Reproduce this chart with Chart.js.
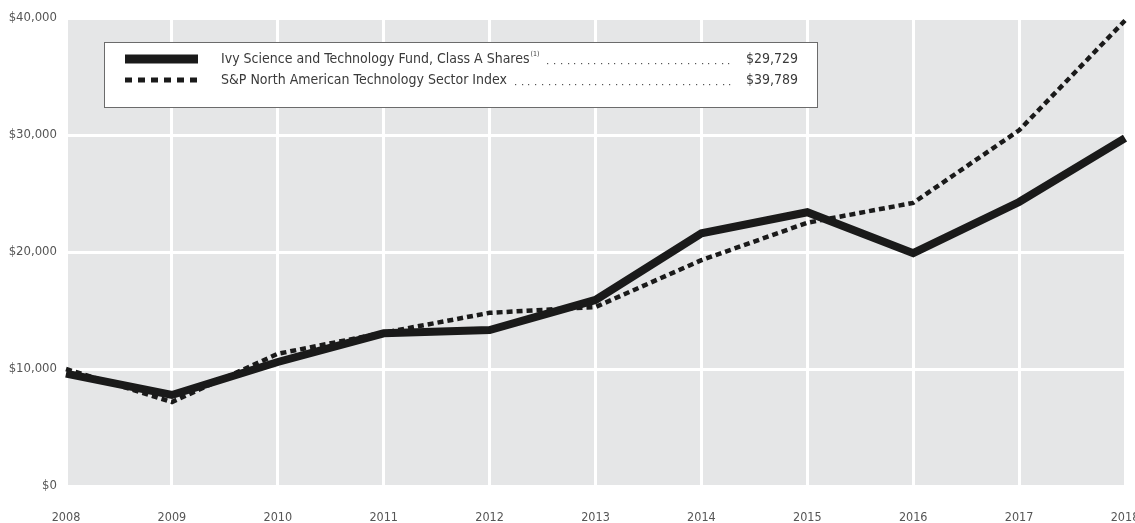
<!DOCTYPE html>
<html>
<head>
<meta charset="utf-8">
<script src="https://cdn.jsdelivr.net/npm/chart.js@4.4.1/dist/chart.umd.min.js"></script>
<style>
  html, body { margin: 0; padding: 0; background: #fff; }
  #wrap { width: 1135px; height: 523px; position: relative; }
</style>
</head>
<body>
<div id="wrap"><canvas id="chart"></canvas></div>
<script>
const years = ['2008', '2009', '2010', '2011', '2012', '2013', '2014', '2015', '2016', '2017', '2018'];
const fundValues = [9600, 7780, 10600, 13050, 13330, 15900, 21600, 23400, 19900, 24270, 29729];
const indexValues = [10000, 7180, 11300, 13100, 14800, 15300, 19300, 22500, 24200, 30400, 39789];
const yTicks = [0, 10000, 20000, 30000, 40000];
const legendLabels = ['Ivy Science and Technology Fund, Class A Shares', 'S&P North American Technology Sector Index'];
const legendNotes = ['(1)', ''];
const legendTotals = ['$29,729', '$39,789'];

const fontFamily = "'Liberation Sans Narrow', 'DejaVu Sans Condensed', 'Liberation Sans', sans-serif";

// grey plot background
const plotBg = {
  id: 'plotBg',
  beforeDraw(chart) {
    const { ctx, chartArea: a } = chart;
    ctx.save();
    ctx.fillStyle = '#e5e6e7';
    ctx.fillRect(a.left, a.top, a.right - a.left, a.bottom - a.top);
    ctx.restore();
  }
};

// boxed legend with leader dots and ending values
const boxLegend = {
  id: 'boxLegend',
  afterDraw(chart) {
    const ctx = chart.ctx;
    const bx = 104.5, by = 42.5, bw = 713, bh = 65;
    ctx.save();
    ctx.fillStyle = '#fff';
    ctx.fillRect(bx, by, bw, bh);
    ctx.strokeStyle = '#6b6b6b';
    ctx.lineWidth = 1;
    ctx.strokeRect(bx, by, bw, bh);

    const rows = [59, 80];
    chart.data.datasets.forEach((ds, i) => {
      const y = rows[i];
      ctx.strokeStyle = '#1a1a1a';
      ctx.lineWidth = i === 0 ? 9 : 5;
      ctx.setLineDash(i === 0 ? [] : [7, 6]);
      ctx.beginPath();
      ctx.moveTo(125, y);
      ctx.lineTo(198, y);
      ctx.stroke();
      ctx.setLineDash([]);

      ctx.fillStyle = '#3a3a3a';
      ctx.font = '14px ' + fontFamily;
      ctx.textBaseline = 'middle';
      ctx.textAlign = 'left';
      ctx.fillText(legendLabels[i], 221, y);
      let end = 221 + ctx.measureText(legendLabels[i]).width;
      if (legendNotes[i]) {
        ctx.font = '7px ' + fontFamily;
        ctx.fillText(legendNotes[i], end + 1, y - 5);
        end += ctx.measureText(legendNotes[i]).width + 1;
      }
      ctx.fillStyle = '#555';
      for (let x = end + 8; x <= 734; x += 6.7) {
        ctx.fillRect(Math.round(x), y + 4, 1.2, 1.2);
      }
      ctx.fillStyle = '#3a3a3a';
      ctx.font = '14px ' + fontFamily;
      ctx.textAlign = 'right';
      ctx.fillText(legendTotals[i], 798, y);
    });
    ctx.restore();
  }
};

new Chart(document.getElementById('chart'), {
  type: 'line',
  data: {
    labels: years,
    datasets: [
      {
        label: legendLabels[0],
        data: fundValues,
        borderColor: '#1a1a1a',
        borderWidth: 8,
        pointRadius: 0,
        tension: 0,
        borderJoinStyle: 'miter'
      },
      {
        label: legendLabels[1],
        data: indexValues,
        borderColor: '#1a1a1a',
        borderWidth: 4.5,
        borderDash: [6, 4],
        pointRadius: 0,
        tension: 0
      }
    ]
  },
  options: {
    responsive: true,
    maintainAspectRatio: false,
    animation: false,
    layout: { padding: { top: 18, right: 10, left: 0, bottom: 0 } },
    plugins: {
      legend: { display: false },
      tooltip: { enabled: false }
    },
    scales: {
      x: {
        offset: false,
        border: { display: false },
        grid: { color: '#ffffff', lineWidth: 3, drawTicks: false },
        ticks: {
          color: '#555',
          font: { family: fontFamily, size: 12.5 },
          padding: 24,
          maxRotation: 0,
          autoSkip: false
        },
        afterFit(scale) {
          scale.height = 37;
          // let the end labels run to the edge like the original
          scale.paddingLeft = 0;
          scale.paddingRight = 0;
        }
      },
      y: {
        min: 0,
        max: 40000,
        border: { display: false },
        grid: { color: '#ffffff', lineWidth: 3, drawTicks: false },
        afterBuildTicks(scale) { scale.ticks = yTicks.map(v => ({ value: v })); },
        ticks: {
          color: '#555',
          font: { family: fontFamily, size: 13 },
          padding: 9,
          callback: v => '$' + v.toLocaleString('en-US')
        },
        afterFit(scale) { scale.width = 66; }
      }
    }
  },
  plugins: [plotBg, boxLegend]
});
</script>
</body>
</html>
